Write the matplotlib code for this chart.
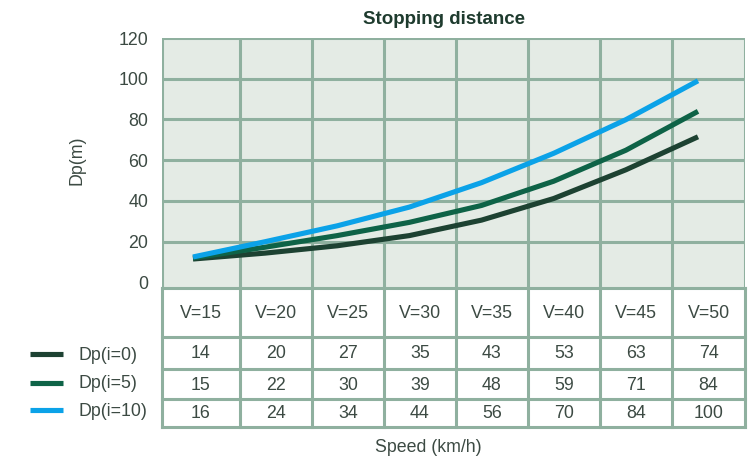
import matplotlib
matplotlib.use("Agg")
import matplotlib.pyplot as plt

speeds = [15, 20, 25, 30, 35, 40, 45, 50]
speed_labels = ["V=15", "V=20", "V=25", "V=30", "V=35", "V=40", "V=45", "V=50"]
# table values
dp_i0 = [14, 20, 27, 35, 43, 53, 63, 74]
dp_i5 = [15, 22, 30, 39, 48, 59, 71, 84]
dp_i10 = [16, 24, 34, 44, 56, 70, 84, 100]
# curve values as drawn in the chart
curve_i0 = [11.5, 14.4, 18.0, 23.0, 30.6, 41.2, 55.3, 71.5]
curve_i5 = [12.0, 17.3, 23.0, 29.5, 37.8, 49.7, 64.9, 84.0]
curve_i10 = [12.5, 20.0, 27.8, 37.0, 49.0, 63.4, 79.9, 99.0]
series_names = ["Dp(i=0)", "Dp(i=5)", "Dp(i=10)"]
y_ticks = [0, 20, 40, 60, 80, 100, 120]

colors = ["#1d4232", "#0e6347", "#0ba2e8"]
grid_c = "#8fb09f"
bg_c = "#e4ebe5"
txt_c = "#3c4a43"
plt.rcParams['font.family'] = ['Liberation Sans', 'DejaVu Sans']
FS = 12.8

W, H = 750, 457
fig = plt.figure(figsize=(7.5, 4.57), dpi=100)

# pixel geometry
xl, xr = 162, 745
yt, yb = 38, 288
col_px = [162, 240, 312, 384, 456, 528, 600, 672, 745]
row_px = [288, 337, 369, 399, 427]
x15, x50 = 193, 698
y120_px, y20_px = 38, 241.7

def px2v(p):
    return 15 + (p - x15) * (50 - 15) / (x50 - x15)

def py2val(p):
    return 120 - (p - y120_px) * 100 / (y20_px - y120_px)

ax = fig.add_axes([xl / W, 1 - yb / H, (xr - xl) / W, (yb - yt) / H])
ax.set_facecolor(bg_c)
ax.set_xlim(px2v(xl), px2v(xr))
ax.set_ylim(py2val(yb), 120)
for p in col_px:
    ax.axvline(px2v(p), color=grid_c, lw=2.2, zorder=1)
for yv in y_ticks[1:]:
    ax.axhline(yv, color=grid_c, lw=2.2, zorder=1)
for s, c in zip([curve_i0, curve_i5, curve_i10], colors):
    ax.plot(speeds, s, color=c, lw=3.7, solid_capstyle='butt',
            solid_joinstyle='round', zorder=3)
ax.set_xticks([])
ax.set_yticks(y_ticks)
ax.set_yticklabels([str(v) for v in y_ticks], fontsize=FS, color=txt_c)
ax.tick_params(axis='y', length=0, pad=10)
for sp in ax.spines.values():
    sp.set_visible(False)
fig.text(443.5 / W, 1 - 20 / H, "Stopping distance", fontsize=13.5,
         fontweight='bold', color="#1e3b2e", ha='center', va='center')
fig.text(77 / W, 1 - 160 / H, "Dp(m)", rotation=90, fontsize=FS, color=txt_c,
         ha='center', va='center')

# table
tax = fig.add_axes([0, 0, 1, 1])
tax.set_xlim(0, W)
tax.set_ylim(H, 0)
tax.axis('off')
for p in col_px:
    tax.plot([p, p], [row_px[0], row_px[-1]], color=grid_c, lw=2.2)
for r in row_px:
    tax.plot([xl, xr], [r, r], color=grid_c, lw=2.2)
centers = [(col_px[i] + col_px[i + 1]) / 2 for i in range(8)]
for cx, lab in zip(centers, speed_labels):
    tax.text(cx, (row_px[0] + row_px[1]) / 2 + 1, lab, ha='center', va='center',
             fontsize=FS, color=txt_c)
legend_y = [354, 383, 410]
for ri, s in enumerate([dp_i0, dp_i5, dp_i10]):
    cy = (row_px[ri + 1] + row_px[ri + 2]) / 2 + 1
    for cx, v in zip(centers, s):
        tax.text(cx, cy, str(v), ha='center', va='center', fontsize=FS, color=txt_c)
    tax.plot([30, 63], [legend_y[ri], legend_y[ri]], color=colors[ri], lw=3.7,
             solid_capstyle='butt')
    tax.text(79, legend_y[ri] + 1, series_names[ri], ha='left', va='center',
             fontsize=FS, color=txt_c)

fig.text(428 / W, 1 - 448 / H, "Speed (km/h)", ha='center', va='center',
         fontsize=FS, color=txt_c)

fig.savefig("out.png", dpi=100)
